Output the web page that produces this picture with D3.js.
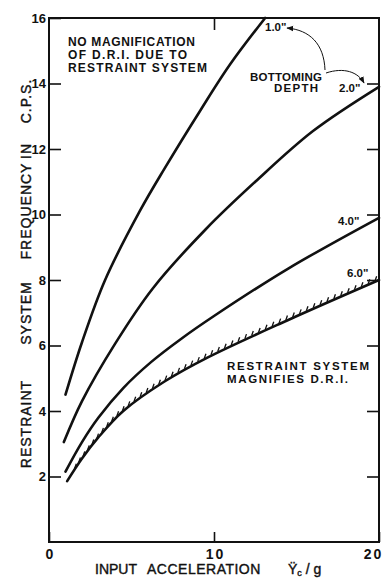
<!DOCTYPE html>
<html>
<head>
<meta charset="utf-8">
<script src="https://cdn.jsdelivr.net/npm/d3@7"></script>
<style>
  html, body { margin: 0; padding: 0; background: #fff; }
  svg { display: block; }
  text { font-family: "Liberation Sans", Arial, sans-serif; fill: #111; }
</style>
</head>
<body>
<div id="chart"></div>
<script>
// values
const depthLabels = ['1.0"', '2.0"', '4.0"', '6.0"'];

const accel10 = [1.0, 2.0, 3.4, 5.5, 7.0, 9.2, 11.0, 13.1];
const freq10 = [4.5, 6.1, 8.0, 10.1, 11.4, 13.2, 14.6, 16.0];

const accel20 = [0.9, 2.0, 4.0, 6.3, 9.5, 12.5, 16.0, 20.0];
const freq20 = [3.05, 4.3, 6.05, 7.75, 9.55, 11.0, 12.55, 13.9];

const accel40 = [1.0, 2.0, 3.0, 4.5, 6.2, 8.0, 10.0, 14.5, 20.0];
const freq40 = [2.15, 3.05, 3.8, 4.7, 5.5, 6.2, 6.9, 8.35, 9.9];

const accel60 = [1.1, 2.0, 3.0, 4.5, 7.0, 9.6, 14.5, 20.0];
const freq60 = [1.86, 2.55, 3.2, 4.0, 4.9, 5.63, 6.78, 8.0];

const xTicks = [0, 10, 20];
const yTicks = [2, 4, 6, 8, 10, 12, 14, 16];
const sideTicks = [2, 4, 6, 8, 10, 12, 14];

const W = 387, H = 579;

const svg = d3.select('#chart').append('svg')
  .attr('width', W)
  .attr('height', H);

const x = d3.scaleLinear().domain([0, 20]).range([49, 379]);
const y = d3.scaleLinear().domain([0, 16]).range([542, 18]);

// arrow marker for the bottoming depth callout
svg.append('defs').append('marker')
  .attr('id', 'arrow')
  .attr('viewBox', '0 0 10 10')
  .attr('refX', 9)
  .attr('refY', 5)
  .attr('markerWidth', 7)
  .attr('markerHeight', 7)
  .attr('markerUnits', 'userSpaceOnUse')
  .attr('orient', 'auto')
  .append('path')
  .attr('d', 'M0,1 L10,5 L0,9 Z')
  .attr('fill', '#111');

// axes: ticks point into the plot
const styleAxis = (g) => {
  g.select('.domain').remove();
  g.selectAll('.tick line').attr('stroke', '#111').attr('stroke-width', 1.6);
  g.selectAll('.tick text')
    .style('font-size', '13px')
    .style('font-weight', 'bold')
    .attr('fill', '#111');
};

svg.append('g')
  .attr('transform', `translate(${x(0)},0)`)
  .call(d3.axisLeft(y).tickValues(yTicks).tickSizeInner(-12).tickSizeOuter(0).tickPadding(3))
  .call(styleAxis);

svg.append('g')
  .attr('transform', `translate(${x(20)},0)`)
  .call(d3.axisRight(y).tickValues(sideTicks).tickSizeInner(-12).tickSizeOuter(0).tickFormat(''))
  .call(styleAxis);

const xAxis = svg.append('g')
  .attr('transform', `translate(0,${y(0)})`)
  .call(d3.axisBottom(x).tickValues(xTicks).tickSizeInner(-10).tickSizeOuter(0).tickPadding(4))
  .call(styleAxis);
xAxis.selectAll('.tick text')
  .style('font-size', '14px')
  .style('letter-spacing', '2px')
  .attr('dy', '0.9em')
  .attr('dx', (d) => d === 20 ? -6 : 1);

svg.append('g')
  .attr('transform', `translate(0,${y(16)})`)
  .call(d3.axisTop(x).tickValues([10]).tickSizeInner(-12).tickSizeOuter(0).tickFormat(''))
  .call(styleAxis);

// frame
svg.append('rect')
  .attr('x', x(0))
  .attr('y', y(16))
  .attr('width', x(20) - x(0))
  .attr('height', y(0) - y(16))
  .attr('fill', 'none')
  .attr('stroke', '#111')
  .attr('stroke-width', 2);

// curves
const series = [
  { label: depthLabels[0], xs: accel10, ys: freq10 },
  { label: depthLabels[1], xs: accel20, ys: freq20 },
  { label: depthLabels[2], xs: accel40, ys: freq40 },
  { label: depthLabels[3], xs: accel60, ys: freq60 }
];

const line = d3.line()
  .x((d) => x(d[0]))
  .y((d) => y(d[1]))
  .curve(d3.curveCatmullRom.alpha(0.5));

const paths = svg.append('g')
  .selectAll('path')
  .data(series)
  .join('path')
  .attr('d', (s) => line(d3.zip(s.xs, s.ys)))
  .attr('fill', 'none')
  .attr('stroke', '#111')
  .attr('stroke-width', 2.6)
  .attr('stroke-linecap', 'round');

// hatching along the 6.0" curve (upper side)
const lastPath = paths.nodes()[3];
const total = lastPath.getTotalLength();
const hatch = svg.append('g');
for (let s = 14; s < total - 3; s += 7.5) {
  const p = lastPath.getPointAtLength(s);
  hatch.append('line')
    .attr('x1', p.x)
    .attr('y1', p.y - 1)
    .attr('x2', p.x + 1.6)
    .attr('y2', p.y - 5.5)
    .attr('stroke', '#111')
    .attr('stroke-width', 1.3);
}

// curve labels
const curveLabelPos = [[265, 31], [339, 92], [338, 225], [347, 277]];
svg.append('g')
  .selectAll('text')
  .data(series)
  .join('text')
  .attr('x', (d, i) => curveLabelPos[i][0])
  .attr('y', (d, i) => curveLabelPos[i][1])
  .style('font-size', '11.5px')
  .style('font-weight', 'bold')
  .text((d) => d.label);

// annotations
const note = (txt, px, py, len, size) => svg.append('text')
  .attr('x', px)
  .attr('y', py)
  .attr('textLength', len)
  .attr('lengthAdjust', 'spacing')
  .style('font-size', size + 'px')
  .style('font-weight', 'bold')
  .text(txt);

note('NO MAGNIFICATION', 68, 46, 127, 12);
note('OF D.R.I. DUE TO', 68, 59, 119, 12);
note('RESTRAINT SYSTEM', 68, 71.5, 139, 12);

note('BOTTOMING', 250, 81, 72, 11.5);
note('DEPTH', 274, 92, 44, 11.5);

note('RESTRAINT  SYSTEM', 227, 370, 142, 11.5);
note('MAGNIFIES  D.R.I.', 227, 383, 121, 11.5);

// callout arrows
svg.append('path')
  .attr('d', 'M325,70 C324,44 310,30 287,28')
  .attr('fill', 'none')
  .attr('stroke', '#111')
  .attr('stroke-width', 1)
  .attr('marker-end', 'url(#arrow)');

svg.append('path')
  .attr('d', 'M326,73 C344,67 358,72 364,83')
  .attr('fill', 'none')
  .attr('stroke', '#111')
  .attr('stroke-width', 1)
  .attr('marker-end', 'url(#arrow)');

// axis titles
const yWords = [['RESTRAINT', 424], ['SYSTEM', 313], ['FREQUENCY', 211], ['IN', 151], ['C.P.S.', 101]];
svg.append('g')
  .selectAll('text')
  .data(yWords)
  .join('text')
  .attr('transform', (d) => `translate(31,${d[1]}) rotate(-90)`)
  .attr('text-anchor', 'middle')
  .style('font-size', '14px')
  .style('letter-spacing', '1px')
  .attr('stroke', '#111')
  .attr('stroke-width', 0.4)
  .text((d) => d[0]);

const xt = svg.append('text')
  .attr('y', 574)
  .style('font-size', '14px')
  .attr('stroke', '#111')
  .attr('stroke-width', 0.4);
xt.append('tspan').attr('x', 95).text('INPUT');
xt.append('tspan').attr('x', 147).style('letter-spacing', '0.5px').text('ACCELERATION');
xt.append('tspan').attr('x', 288).text('Ÿ');
xt.append('tspan').attr('dy', 2).style('font-size', '9px').text('c');
xt.append('tspan').attr('dy', -2).text(' / g');
</script>
</body>
</html>
